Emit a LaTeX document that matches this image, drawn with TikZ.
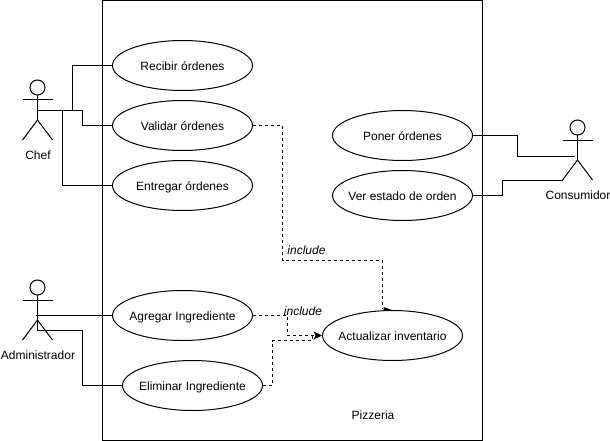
\documentclass[tikz,border=0pt]{standalone}
\usepackage{fontspec}
\setmainfont{Liberation Sans}
\usetikzlibrary{arrows.meta,shapes.geometric}
\newcommand{\uctext}[1]{\raisebox{-5.3pt}[0pt][0pt]{\makebox[0pt]{#1}}}
\tikzset{
  x=1pt,y=-1pt,
  usecase/.style={draw,ellipse,line width=1pt,minimum width=140pt,minimum height=50pt,inner sep=0pt,font=\fontsize{12}{14}\selectfont},
  lbl/.style={inner sep=0pt,font=\fontsize{12}{14}\selectfont},
  inc/.style={inner sep=0pt,font=\fontsize{12}{14}\selectfont\itshape},
  conn/.style={line width=1pt,line join=miter},
  dep/.style={line width=1pt,dash pattern=on 3pt off 3pt},
  actor/.style={line width=1pt}
}
\begin{document}
\begin{tikzpicture}
\useasboundingbox (0,0) rectangle (610,441);
\draw[line width=1pt] (102.5,0.5) rectangle (482.5,440.5);
% use cases
\node[usecase] (rec) at (182.5,65.5) {\uctext{Recibir órdenes}};
\node[usecase] (val) at (182.5,125.5) {\uctext{Validar órdenes}};
\node[usecase] (ent) at (182.5,185.5) {\uctext{Entregar órdenes}};
\node[usecase] (agr) at (182.5,315.5) {\uctext{Agregar Ingrediente}};
\node[usecase] (eli) at (192.5,385.5) {\uctext{Eliminar Ingrediente}};
\node[usecase] (act) at (392.5,335.5) {\uctext{Actualizar inventario}};
\node[usecase] (pon) at (402.5,135.5) {\uctext{Poner órdenes}};
\node[usecase] (ver) at (402.5,195.5) {\uctext{Ver estado de orden}};
% actors
\foreach \n/\cx/\cy in {c/37.5/87.5,a/37.5/287.5,o/577.5/127.5}{
  \draw[actor] (\cx,\cy) circle (7.5pt);
  \draw[actor] (\cx,\cy+7.5) -- (\cx,\cy+32.5);
  \draw[actor] (\cx-15,\cy+12.5) -- (\cx+15,\cy+12.5);
  \draw[actor] (\cx-15,\cy+52.5) -- (\cx,\cy+32.5) -- (\cx+15,\cy+52.5);
}
\coordinate (chef) at (37.5,110.5);
\coordinate (adm1) at (36,315.5);
\coordinate (adm2) at (37.5,320);
\coordinate (con1) at (575,156.5);
\coordinate (con2) at (562.5,180.5);
\node[lbl] (chefl) at (38,155) {Chef};
\node[lbl] (adml) at (38,355) {Administrador};
\node[lbl] (conl) at (578,195) {Consumidor};
\node[lbl] (piz) at (373,415) {Pizzeria};
\node[inc] (i1) at (306.5,250.5) {include};
\node[inc] (i2) at (303,311) {include};
% connectors
\draw[conn] (chef) -- (72.5,110.5) -- (72.5,65.5) -- (rec.west);
\draw[conn] (chef) -- (82.5,110.5) -- (82.5,125.5) -- (val.west);
\draw[conn] (chef) -- (62.5,110.5) -- (62.5,185.5) -- (ent.west);
\draw[conn] (adm1) -- (agr.west);
\draw[conn] (adm2) -- (37.5,330.5) -- (82.5,330.5) -- (82.5,385.5) -- (eli.west);
\draw[conn] (pon.east) -- (517.5,135.5) -- (517.5,156.5) -- (con1);
\draw[conn] (ver.east) -- (502.5,195.5) -- (502.5,180.5) -- (con2);
% dependencies
\draw[dep] (val.east) -- (282.5,125.5) -- (282.5,260.5) -- (382.5,260.5) -- (382.5,308.5);
\fill (383.5,307) -- (392,310) -- (383.5,311) -- cycle;
\draw[dep] (agr.east) -- (287.5,315.5) -- (287.5,335.5) -- (315,335.5);
\draw[dep] (eli.east) -- (272.5,385.5) -- (272.5,340.5) -- (312.5,340.5) -- (312.5,335.5);
\fill (act.west) -- (313.5,331.5) -- (315.5,335.5) -- (313.5,339.5) -- cycle;
\end{tikzpicture}
\end{document}
